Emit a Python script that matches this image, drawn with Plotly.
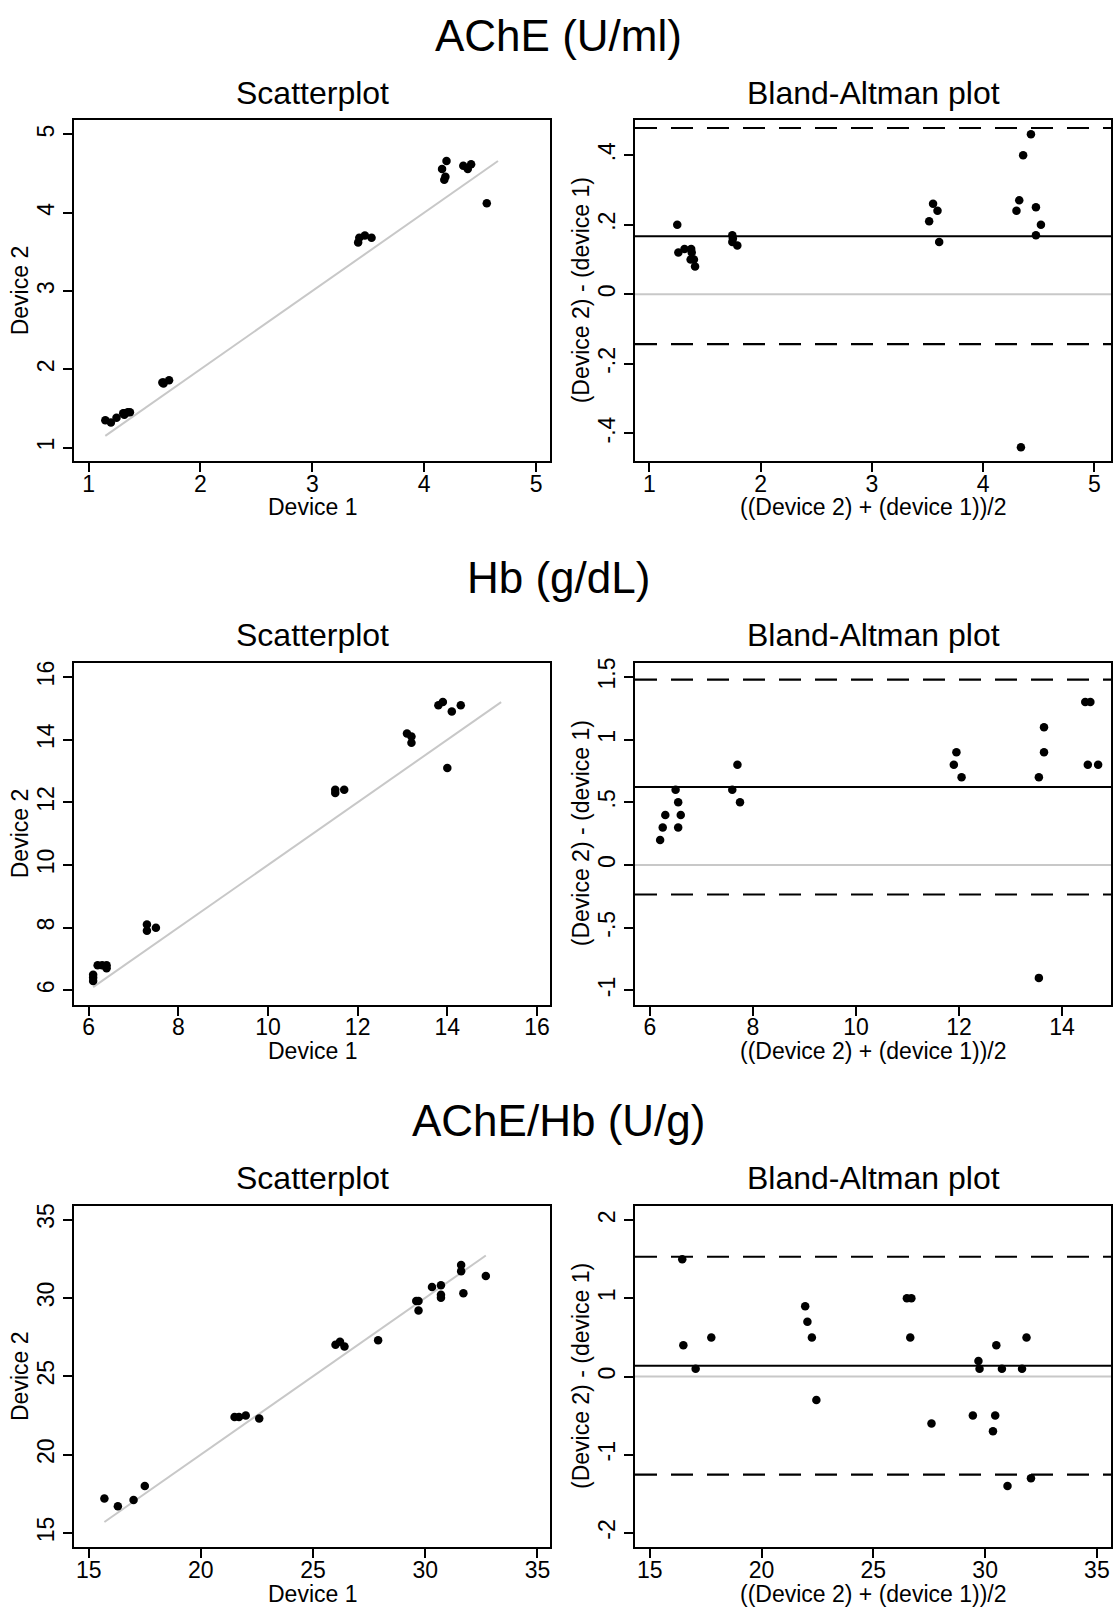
import plotly.graph_objects as go

# ---------------- data ----------------
# AChE (U/ml)
ache_dev1 = [1.15, 1.20, 1.25, 1.31, 1.32, 1.32, 1.35, 1.37, 1.66, 1.67, 1.67, 1.72,
             3.41, 3.42, 3.47, 3.53, 4.18, 4.19, 4.16, 4.20, 4.35, 4.39, 4.42, 4.56]
ache_dev2 = [1.35, 1.32, 1.38, 1.44, 1.44, 1.42, 1.45, 1.45, 1.83, 1.82, 1.83, 1.86,
             3.62, 3.68, 3.71, 3.68, 4.42, 4.46, 4.56, 4.66, 4.60, 4.56, 4.62, 4.12]
ache_mean = [1.25, 1.26, 1.315, 1.375, 1.38, 1.37, 1.40, 1.41, 1.745, 1.745, 1.75, 1.79,
             3.515, 3.55, 3.59, 3.605, 4.30, 4.325, 4.36, 4.43, 4.475, 4.475, 4.52, 4.34]
ache_diff = [0.20, 0.12, 0.13, 0.13, 0.12, 0.10, 0.10, 0.08, 0.17, 0.15, 0.16, 0.14,
             0.21, 0.26, 0.24, 0.15, 0.24, 0.27, 0.40, 0.46, 0.25, 0.17, 0.20, -0.44]
ache_bias = 0.167
ache_loa = [-0.143, 0.478]
ache_identity = [1.15, 4.66]

# Hb (g/dL)
hb_dev1 = [6.1, 6.1, 6.1, 6.2, 6.3, 6.4, 6.4, 7.3, 7.3, 7.5, 11.5, 11.5, 11.7,
           13.2, 13.1, 13.2, 14.0, 13.8, 13.9, 14.1, 14.3]
hb_dev2 = [6.3, 6.4, 6.5, 6.8, 6.8, 6.7, 6.8, 7.9, 8.1, 8.0, 12.3, 12.4, 12.4,
           13.9, 14.2, 14.1, 13.1, 15.1, 15.2, 14.9, 15.1]
hb_mean = [6.2, 6.25, 6.3, 6.5, 6.55, 6.55, 6.6, 7.6, 7.7, 7.75, 11.9, 11.95, 12.05,
           13.55, 13.65, 13.65, 13.55, 14.45, 14.55, 14.5, 14.7]
hb_diff = [0.2, 0.3, 0.4, 0.6, 0.5, 0.3, 0.4, 0.6, 0.8, 0.5, 0.8, 0.9, 0.7,
           0.7, 1.1, 0.9, -0.9, 1.3, 1.3, 0.8, 0.8]
hb_bias = 0.622
hb_loa = [-0.235, 1.479]
hb_identity = [6.1, 15.2]

# AChE/Hb (U/g)
r_dev1 = [15.7, 16.3, 17.0, 17.5, 21.5, 21.7, 22.0, 22.6, 26.0, 26.2, 26.4, 27.9,
          29.7, 29.6, 29.7, 30.7, 30.7, 30.3, 30.7, 31.7, 31.6, 31.6, 32.7]
r_dev2 = [17.2, 16.7, 17.1, 18.0, 22.4, 22.4, 22.5, 22.3, 27.0, 27.2, 26.9, 27.3,
          29.2, 29.8, 29.8, 30.0, 30.2, 30.7, 30.8, 30.3, 31.7, 32.1, 31.4]
r_mean = [16.45, 16.5, 17.05, 17.75, 21.95, 22.05, 22.25, 22.45, 26.5, 26.7, 26.65, 27.6,
          29.45, 29.7, 29.75, 30.35, 30.45, 30.5, 30.75, 31.0, 31.65, 31.85, 32.05]
r_diff = [1.5, 0.4, 0.1, 0.5, 0.9, 0.7, 0.5, -0.3, 1.0, 1.0, 0.5, -0.6,
          -0.5, 0.2, 0.1, -0.7, -0.5, 0.4, 0.1, -1.4, 0.1, 0.5, -1.3]
r_bias = 0.138
r_loa = [-1.254, 1.532]
r_identity = [15.7, 32.7]

section_titles = ["AChE (U/ml)", "Hb (g/dL)", "AChE/Hb (U/g)"]
panel_titles = ["Scatterplot", "Bland-Altman plot"]
scatter_xtitle, scatter_ytitle = "Device 1", "Device 2"
ba_xtitle, ba_ytitle = "((Device 2) + (device 1))/2", "(Device 2) - (device 1)"

# tick values / labels
ache_sc_ticks = [1, 2, 3, 4, 5]
ache_ba_yticks = [-0.4, -0.2, 0, 0.2, 0.4]
ache_ba_ytext = ["-.4", "-.2", "0", ".2", ".4"]
hb_sc_ticks = [6, 8, 10, 12, 14, 16]
hb_ba_xticks = [6, 8, 10, 12, 14]
hb_ba_yticks = [-1, -0.5, 0, 0.5, 1, 1.5]
hb_ba_ytext = ["-1", "-.5", "0", ".5", "1", "1.5"]
r_sc_ticks = [15, 20, 25, 30, 35]
r_ba_yticks = [-2, -1, 0, 1, 2]

# ---------------- layout geometry ----------------
W, H = 1113, 1609
FONT = "Liberation Sans, Arial, sans-serif"
col_px = [(74, 550), (635, 1111)]
row_px = [(115.7, 457.7), (660.0, 1002.7), (1204.3, 1547.3)]
ytitle_px = [19.5, 580.5]

def xdom(c):
    return [col_px[c][0] / W, col_px[c][1] / W]

def ydom(r):
    return [1 - row_px[r][1] / H, 1 - row_px[r][0] / H]

def py(v):
    return 1 - v / H

fig = go.Figure()

rows = [
    dict(d1=ache_dev1, d2=ache_dev2, m=ache_mean, d=ache_diff, bias=ache_bias, loa=ache_loa,
         ident=ache_identity,
         sc_x=[0.87, 5.125], sc_y=[0.825, 5.18], sc_xt=ache_sc_ticks, sc_yt=ache_sc_ticks,
         ba_x=[0.87, 5.15], ba_y=[-0.48, 0.5], ba_xt=ache_sc_ticks,
         ba_yt=ache_ba_yticks, ba_ytt=ache_ba_ytext),
    dict(d1=hb_dev1, d2=hb_dev2, m=hb_mean, d=hb_diff, bias=hb_bias, loa=hb_loa,
         ident=hb_identity,
         sc_x=[5.673, 16.29], sc_y=[5.544, 16.45], sc_xt=hb_sc_ticks, sc_yt=hb_sc_ticks,
         ba_x=[5.712, 14.95], ba_y=[-1.113, 1.612], ba_xt=hb_ba_xticks,
         ba_yt=hb_ba_yticks, ba_ytt=hb_ba_ytext),
    dict(d1=r_dev1, d2=r_dev2, m=r_mean, d=r_diff, bias=r_bias, loa=r_loa,
         ident=r_identity,
         sc_x=[14.345, 35.56], sc_y=[14.07, 35.89], sc_xt=r_sc_ticks, sc_yt=r_sc_ticks,
         ba_x=[14.337, 35.63], ba_y=[-2.187, 2.187], ba_xt=r_sc_ticks,
         ba_yt=r_ba_yticks, ba_ytt=[str(v) for v in r_ba_yticks]),
]

tickfont = dict(family=FONT, size=23, color="black")
titlefont = dict(family=FONT, size=23, color="black")

def axis_common():
    return dict(showgrid=False, zeroline=False, showline=True, linecolor="black",
                linewidth=2, mirror=True, ticks="outside", ticklen=9, tickwidth=1.5,
                tickcolor="black", tickfont=tickfont)

layout = dict(width=W, height=H, margin=dict(l=0, r=0, t=0, b=0),
              paper_bgcolor="white", plot_bgcolor="white", showlegend=False,
              font=dict(family=FONT, color="black"))
annotations = []
shapes = []

gray = "#c8c8c8"
for r, R in enumerate(rows):
    i_sc = 2 * r + 1
    i_ba = 2 * r + 2
    for idx, col in ((i_sc, 0), (i_ba, 1)):
        sfx = "" if idx == 1 else str(idx)
        xa = axis_common()
        ya = axis_common()
        xa.update(domain=xdom(col), anchor="y" + sfx, ticklabelstandoff=-8)
        ya.update(domain=ydom(r), anchor="x" + sfx, tickangle=-90)
        if col == 0:
            xa.update(range=R["sc_x"], tickvals=R["sc_xt"])
            ya.update(range=R["sc_y"], tickvals=R["sc_yt"])
        else:
            xa.update(range=R["ba_x"], tickvals=R["ba_xt"])
            ya.update(range=R["ba_y"], tickvals=R["ba_yt"], ticktext=R["ba_ytt"])
        layout["xaxis" + sfx] = xa
        layout["yaxis" + sfx] = ya

    sx, sy = "x" + ("" if i_sc == 1 else str(i_sc)), "y" + ("" if i_sc == 1 else str(i_sc))
    bx, by = "x" + str(i_ba), "y" + str(i_ba)

    # scatterplot: line of equality + points
    fig.add_trace(go.Scatter(x=R["ident"], y=R["ident"], mode="lines",
                             line=dict(color=gray, width=2), xaxis=sx, yaxis=sy,
                             hoverinfo="skip"))
    fig.add_trace(go.Scatter(x=R["d1"], y=R["d2"], mode="markers",
                             marker=dict(color="black", size=8.5), xaxis=sx, yaxis=sy))

    # Bland-Altman: zero line, bias, limits of agreement
    shapes.append(dict(type="line", xref=bx + " domain", yref=by, x0=0, x1=1, y0=0, y1=0,
                       line=dict(color=gray, width=2), layer="below"))
    shapes.append(dict(type="line", xref=bx + " domain", yref=by, x0=0, x1=1,
                       y0=R["bias"], y1=R["bias"], line=dict(color="black", width=2)))
    for v in R["loa"]:
        shapes.append(dict(type="line", xref=bx + " domain", yref=by, x0=0, x1=1,
                           y0=v, y1=v, line=dict(color="black", width=2.2, dash="22px,14px")))
    fig.add_trace(go.Scatter(x=R["m"], y=R["d"], mode="markers",
                             marker=dict(color="black", size=8.5), xaxis=bx, yaxis=by))

    # titles
    top, bottom = row_px[r]
    mid = (top + bottom) / 2
    for c in range(2):
        cx = (col_px[c][0] + col_px[c][1]) / 2 / W
        annotations.append(dict(text=panel_titles[c], xref="paper", yref="paper",
                                x=cx, y=py(top - 27.8), xanchor="center", yanchor="middle",
                                showarrow=False, font=dict(family=FONT, size=32, color="black")))
        # axis titles
        annotations.append(dict(text=scatter_xtitle if c == 0 else ba_xtitle,
                                xref="paper", yref="paper", x=cx, y=py(bottom + 46.3),
                                xanchor="center", yanchor="middle", showarrow=False,
                                font=titlefont))
        annotations.append(dict(text=scatter_ytitle if c == 0 else ba_ytitle,
                                xref="paper", yref="paper", x=ytitle_px[c] / W, y=py(mid),
                                xanchor="center", yanchor="middle", textangle=-90,
                                showarrow=False, font=titlefont))
    annotations.append(dict(text=section_titles[r], xref="paper", yref="paper",
                            x=558 / W, y=py(top - 85.6), xanchor="center",
                            yanchor="middle", showarrow=False,
                            font=dict(family=FONT, size=44, color="black")))

layout["annotations"] = annotations
layout["shapes"] = shapes
fig.update_layout(**layout)
fig.write_html("out.html")
